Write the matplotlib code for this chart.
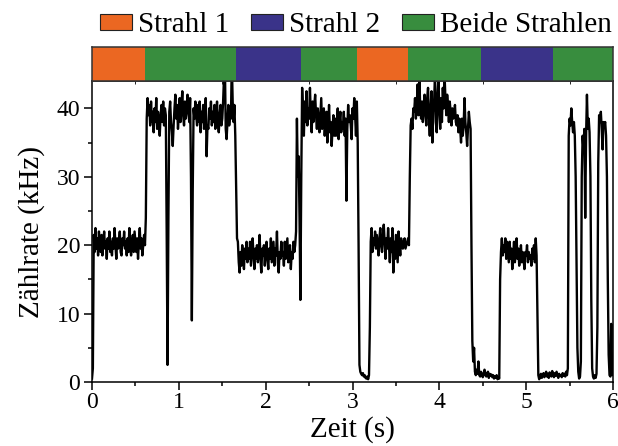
import numpy as np
import matplotlib
matplotlib.use("Agg")
import matplotlib.pyplot as plt
from matplotlib.patches import Patch
from matplotlib.ticker import MultipleLocator

plt.rcParams["font.family"] = ["Liberation Serif", "DejaVu Serif"]

# count rate sampled every 10 ms, from 0.00 s to 6.00 s (kHz)
t_step = 0.01
rate = [
    # 0.00 - 0.19
    0.5, 2.0, 21.5, 19.0, 22.5, 19.5, 21.0, 18.5, 22.0, 20.0, 19.0, 21.5, 18.5, 20.5, 22.0, 19.5, 20.5, 18.0, 21.0, 19.5,
    # 0.20 - 0.39
    22.0, 19.0, 20.5, 18.5, 21.0, 19.5, 22.5, 20.0, 18.0, 21.0, 19.5, 20.5, 22.0, 19.0, 18.5, 21.0, 20.0, 22.0, 19.5, 20.5,
    # 0.40 - 0.59
    18.5, 21.0, 19.0, 22.5, 20.0, 18.5, 20.5, 21.5, 19.0, 22.0, 20.5, 19.0, 21.0, 18.0, 20.5, 22.5, 19.5, 21.0, 18.5, 20.0,
    # 0.60 - 0.79
    21.5, 20.0, 24.0, 38.5, 41.5, 39.0, 40.5, 37.5, 41.0, 38.0, 39.5, 36.5, 40.0, 38.0, 41.5, 37.0, 39.5, 38.0, 36.0, 39.0,
    # 0.80 - 0.99
    40.5, 38.0, 41.0, 37.5, 40.0, 39.0, 22.0, 2.5, 24.0, 39.5, 41.0, 38.0, 36.5, 34.5, 37.5, 40.0, 42.0, 38.5, 40.5, 37.0,
    # 1.00 - 1.19
    39.0, 41.5, 38.0, 40.5, 42.5, 39.0, 37.5, 41.0, 38.5, 40.0, 42.0, 39.5, 38.0, 41.5, 30.0, 9.0, 28.0, 40.0, 38.5, 41.0,
    # 1.20 - 1.39
    39.0, 37.5, 40.5, 38.0, 41.0, 36.5, 39.5, 38.0, 40.5, 37.0, 39.0, 41.5, 33.0, 37.5, 37.0, 40.0, 38.5, 41.0, 37.5, 39.5,
    # 1.40 - 1.59
    38.0, 40.5, 37.0, 39.5, 41.0, 38.0, 36.5, 39.0, 40.5, 37.5, 38.5, 41.0, 44.5, 47.0, 37.0, 35.5, 38.0, 40.5, 37.5, 39.0,
    # 1.60 - 1.79
    38.5, 47.0, 41.0, 38.0, 40.5, 36.0, 28.0, 21.0, 20.5, 17.5, 16.0, 19.0, 17.0, 20.0, 18.5, 16.5, 19.5, 18.0, 20.5, 17.5,
    # 1.80 - 1.99
    19.5, 18.0, 20.5, 17.0, 19.0, 21.0, 18.5, 16.5, 19.5, 18.0, 20.0, 17.5, 19.0, 21.5, 18.0, 16.0, 19.5, 18.5, 20.0, 17.0,
    # 2.00 - 2.19
    19.0, 20.5, 18.0, 16.5, 19.5, 18.0, 21.0, 17.5, 19.0, 20.5, 17.0, 19.5, 18.5, 22.0, 17.5, 16.0, 19.0, 18.0, 20.5, 18.5,
    # 2.20 - 2.39
    19.0, 17.0, 20.5, 18.0, 19.5, 21.0, 17.5, 18.5, 20.0, 16.5, 19.0, 18.0, 20.5, 19.0, 20.0, 22.0, 38.5, 30.0, 33.0, 24.0,
    # 2.40 - 2.59
    12.0, 30.0, 43.0, 39.5, 36.0, 41.0, 38.0, 42.5, 37.5, 40.0, 38.5, 43.0, 39.0, 36.5, 41.0, 38.0, 40.5, 42.0, 39.0, 37.0,
    # 2.60 - 2.79
    40.0, 38.5, 36.5, 39.0, 41.5, 37.0, 38.5, 40.0, 36.0, 38.0, 39.5, 35.0, 37.5, 40.5, 36.5, 38.0, 34.5, 37.0, 39.0, 36.0,
    # 2.80 - 2.99
    38.5, 36.0, 37.5, 40.0, 35.5, 38.0, 39.5, 36.5, 38.0, 37.0, 39.5, 36.0, 38.5, 26.5, 37.0, 40.5, 38.0, 39.0, 37.5, 35.5,
    # 3.00 - 3.19
    40.0, 38.5, 41.5, 39.0, 36.0, 41.0, 35.0, 20.0, 2.5, 1.5, 1.2, 1.0, 1.3, 0.8, 1.0, 0.6, 0.5, 0.8, 0.4, 1.0,
    # 3.20 - 3.39
    8.0, 20.5, 22.5, 19.0, 21.0, 20.0, 22.0, 19.5, 21.5, 20.0, 18.5, 21.0, 22.5, 20.0, 19.0, 21.5, 23.0, 20.5, 18.0, 21.0,
    # 3.40 - 3.59
    19.5, 22.5, 20.0, 17.5, 21.0, 19.0, 22.5, 16.0, 20.5, 18.0, 21.5, 19.5, 17.5, 22.0, 20.0, 18.5, 21.0, 20.0, 19.5, 20.5,
    # 3.60 - 3.79
    21.0, 19.5, 20.0, 20.5, 21.0, 20.0, 30.0, 37.5, 38.5, 37.0, 40.0, 39.5, 41.5, 38.5, 40.5, 43.5, 39.0, 44.5, 40.0, 38.5,
    # 3.80 - 3.99
    41.0, 38.0, 40.5, 42.0, 39.0, 37.5, 41.5, 43.0, 38.5, 36.0, 40.0, 42.5, 35.0, 39.5, 41.0, 45.0, 38.0, 36.5, 42.0, 44.5,
    # 4.00 - 4.19
    39.5, 37.0, 41.5, 38.0, 43.0, 40.0, 45.0, 41.5, 39.0, 42.0, 40.5, 38.0, 41.0, 39.5, 37.5, 40.0, 38.5, 39.0, 40.5, 38.0,
    # 4.20 - 4.39
    37.5, 39.0, 36.5, 38.5, 37.0, 35.0, 38.5, 36.0, 37.5, 41.5, 38.0, 36.5, 34.5, 37.0, 39.5, 38.0, 37.0, 20.0, 6.0, 3.0,
    # 4.40 - 4.59
    5.0, 1.5, 1.0, 1.8, 1.2, 3.0, 1.0, 0.8, 1.5, 1.2, 0.7, 1.0, 1.8, 1.3, 0.8, 1.0, 1.5, 0.6, 1.2, 0.9,
    # 4.60 - 4.79
    1.1, 0.7, 1.0, 0.5, 0.8, 0.6, 1.0, 0.4, 0.7, 0.5, 15.0, 19.0, 21.0, 18.5, 20.0, 19.0, 21.0, 18.0, 20.5, 19.0,
    # 4.80 - 4.99
    17.5, 20.5, 18.0, 19.5, 16.5, 18.5, 20.5, 17.5, 19.0, 21.0, 18.0, 19.5, 17.0, 18.5, 20.0, 17.5, 19.0, 18.0, 16.5, 19.0,
    # 5.00 - 5.19
    18.5, 20.0, 17.5, 19.0, 18.0, 18.5, 17.0, 19.5, 18.0, 20.0, 17.5, 21.0, 18.5, 10.0, 1.0, 0.4, 0.8, 1.2, 0.6, 1.0,
    # 5.20 - 5.39
    1.3, 0.7, 1.0, 1.5, 0.8, 1.2, 0.6, 1.4, 1.0, 0.8, 1.6, 1.1, 0.7, 1.3, 0.9, 1.5, 1.0, 0.6, 1.2, 0.9,
    # 5.40 - 5.59
    1.0, 0.7, 1.3, 0.9, 1.2, 0.8, 1.5, 1.0, 2.0, 36.0, 38.5, 37.5, 40.0, 38.0, 36.5, 38.0, 36.0, 30.0, 18.0, 5.0,
    # 5.60 - 5.79
    1.5, 0.5, 0.8, 3.0, 30.0, 36.0, 34.0, 37.0, 24.0, 36.0, 42.0, 37.0, 38.5, 36.5, 30.0, 12.0, 2.0, 0.8, 0.5, 1.0,
    # 5.80 - 5.99
    0.6, 1.2, 8.0, 32.0, 39.0, 38.0, 39.5, 37.0, 34.0, 38.0, 37.5, 38.0, 36.0, 30.0, 15.0, 4.0, 1.0, 0.8, 8.5, 1.0,
    # 6.00
    1.5,
]
time = np.arange(len(rate)) * t_step

# beam configuration over time
phase_edges = [0.0, 0.61, 1.66, 2.41, 3.05, 3.64, 4.48, 5.31, 6.0]
phase_beam = ["Strahl 1", "Beide Strahlen", "Strahl 2", "Beide Strahlen",
              "Strahl 1", "Beide Strahlen", "Strahl 2", "Beide Strahlen"]
beam_names = ["Strahl 1", "Strahl 2", "Beide Strahlen"]
beam_colors = {"Strahl 1": "#EB6722", "Strahl 2": "#3A3389", "Beide Strahlen": "#388D3E"}

W, H = 618, 446
fig = plt.figure(figsize=(W / 100, H / 100), dpi=100)

ax = fig.add_axes([92 / W, 1 - 382 / H, (613 - 92) / W, (382 - 81) / H])
bar_ax = fig.add_axes([92 / W, 1 - 81 / H, (613 - 92) / W, (81 - 47) / H], sharex=ax)

ax.plot(time, rate, color="black", lw=1.7)
ax.set_xlim(0, 6)
ax.set_ylim(0, 44)
ax.xaxis.set_major_locator(MultipleLocator(1))
ax.xaxis.set_minor_locator(MultipleLocator(0.5))
ax.yaxis.set_major_locator(MultipleLocator(10))
ax.yaxis.set_minor_locator(MultipleLocator(5))
ax.tick_params(which="both", direction="out", width=1.1, labelsize=17, top=False, right=False)
ax.tick_params(which="major", length=5.5)
ax.tick_params(which="minor", length=3)
ax.tick_params(axis="x", pad=2)
ax.tick_params(axis="y", pad=3)
for s in ax.spines.values():
    s.set_linewidth(1.1)
ax.set_xlabel("Zeit (s)", fontsize=21, labelpad=2)
ax.set_ylabel("Zählrate (kHz)", fontsize=21, labelpad=8)

# beam-state strip
starts = phase_edges[:-1]
widths = np.diff(phase_edges)
bar_ax.barh(0, widths, left=starts, height=1.0,
            color=[beam_colors[b] for b in phase_beam], edgecolor="none")
bar_ax.set_ylim(-0.5, 0.5)
bar_ax.set_xlim(0, 6)
bar_ax.tick_params(left=False, bottom=False, labelleft=False, labelbottom=False)
for s in bar_ax.spines.values():
    s.set_linewidth(1.1)
    s.set_color("#333333")

handles = [Patch(facecolor=beam_colors[n], edgecolor="#222222", linewidth=0.8, label=n)
           for n in beam_names]
fig.legend(handles=handles, loc="upper right", bbox_to_anchor=(1.013, 1.005), ncol=3,
           frameon=False, fontsize=21, handlelength=1.1, handleheight=0.5,
           handletextpad=0.2, columnspacing=0.75, borderaxespad=0.1)

fig.savefig("out.png", dpi=100)
